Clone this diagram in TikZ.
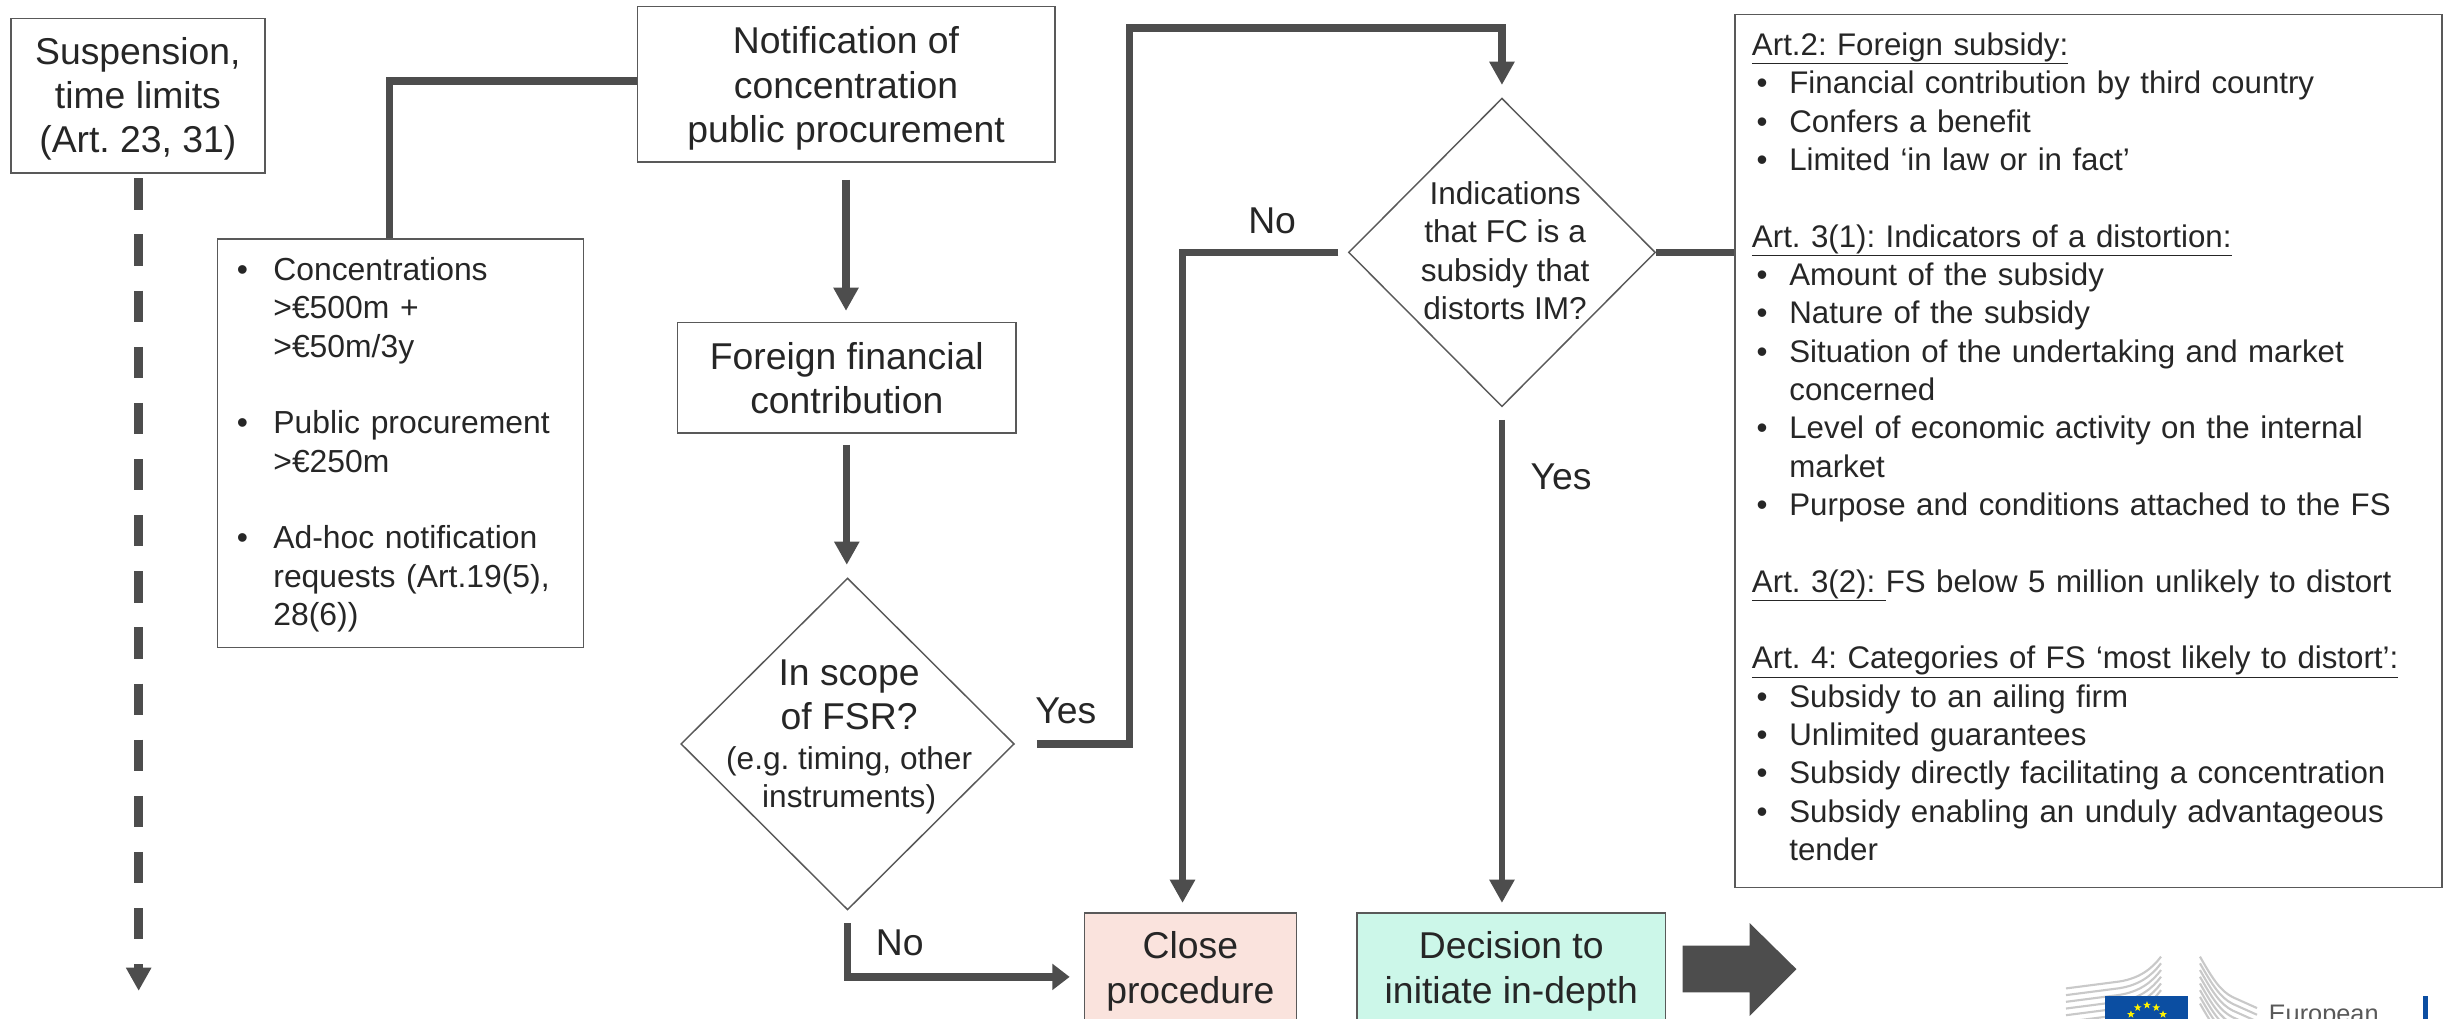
\documentclass[tikz,border=0pt]{standalone}
\usepackage{fontspec}
\setmainfont{Liberation Sans}
\usetikzlibrary{arrows.meta,shapes.geometric}
\AtBeginDocument{\frenchspacing}
\def\ua{1.1685pt}
\definecolor{conn}{HTML}{4D4D4D}
\definecolor{edge}{HTML}{595959}
\definecolor{ink}{HTML}{262626}
\definecolor{closefill}{HTML}{FAE3DD}
\definecolor{decfill}{HTML}{CCF7E9}
\definecolor{eublue}{HTML}{0B4EA2}
\definecolor{stripe}{HTML}{C9C9C9}
\newcommand{\bigf}{\fontsize{28}{33.3}\selectfont}
\newcommand{\smallf}{\fontsize{23.7}{28.75}\selectfont}
\newcommand{\lawf}{\fontsize{23.45}{28.75}\selectfont}
\newcommand{\listf}{\fontsize{23.9}{28.75}\selectfont}
\newcommand{\bul}[1]{\makebox[24\dimexpr\ua\relax][l]{\hspace*{3\dimexpr\ua\relax}•}#1}
\newcommand{\cont}[1]{\hspace*{24\dimexpr\ua\relax}#1}
\newcommand{\ldn}[1]{\rule{0pt}{#1pt}}
\tikzset{
  x=\ua,y=-\ua,
  bigbox/.style={draw=edge,line width=1.1pt,text=ink,font=\bigf,align=center,inner sep=0pt},
  decide/.style={diamond,draw=edge,line width=1.1pt,inner sep=0pt,aspect=1},
  dtext/.style={text=ink,align=center,inner sep=0pt},
  panel/.style={draw=edge,line width=1.1pt,text=ink,anchor=north west,align=left,inner ysep=0pt,inner xsep=11*\ua},
  tag/.style={text=ink,font=\fontsize{28}{33}\selectfont,inner sep=0pt},
  link/.style={draw=conn,line width=5.4pt},
  linkthin/.style={draw=conn,line width=5pt},
  arr/.style={-{Triangle[length=17.5pt,width=18pt]}},
  arrside/.style={-{Triangle[length=13pt,width=19pt]}},
  estar/.style={star,star points=5,star point ratio=2.4,fill=yellow,inner sep=0pt,minimum size=6pt},
}
\begin{document}
\begin{tikzpicture}
\useasboundingbox (0,0) rectangle (1568,654);
\clip (0,0) rectangle (1568,654);

% logo
\foreach \i in {0,...,5}
  \draw[stripe,line width=1.6pt] (1326,634.4+4.3*\i) -- (1360,630+4.3*\i) .. controls (1373,628+4.3*\i) and (1381,622+4.3*\i) .. (1387,614+4.3*\i);
\foreach \i in {0,...,7}
  \draw[stripe,line width=1.6pt] (1412,614+4.3*\i) .. controls (1420,628+4.3*\i) and (1425,636+4.3*\i) .. (1433,640+4.3*\i) -- (1448.6,647+4.3*\i);
\fill[eublue] (1351,639.3) rectangle (1404.5,660);
\foreach \i in {0,...,11}
  \node[estar] (star\i) at ({1378+11.9*cos(30*\i)},{657+11.9*sin(30*\i)}) {};
\fill[eublue] (1555,639.3) rectangle (1558.5,660);
\node[anchor=base west,inner sep=0pt,text=edge,font=\fontsize{19}{22}\selectfont] (ectext) at (1456,656) {European};

% boxes
\node[bigbox,minimum width=163*\ua,minimum height=99*\ua] (susp) at (88.5,61.5) {\ldn{24.7}Suspension,\\time limits\\(Art. 23, 31)};
\node[bigbox,minimum width=268*\ua,minimum height=100*\ua] (notif) at (543,54) {\ldn{27}Notification of\\concentration\\public procurement};
\node[bigbox,minimum width=217*\ua,minimum height=71*\ua] (foreign) at (543.5,242.5) {\ldn{21}Foreign financial\\contribution};
\node[bigbox,fill=closefill,minimum width=136*\ua,minimum height=70*\ua] (close) at (764,621) {\ldn{26}Close\\procedure};
\node[bigbox,fill=decfill,minimum width=198*\ua,minimum height=70*\ua] (dec) at (970,621) {\ldn{26}Decision to\\initiate in-depth};

% list box
\node[panel,font=\listf,text width=213*\ua,minimum height=262*\ua] (list) at (139,153) {%
\makebox[25\dimexpr\ua\relax][l]{\hspace*{1.5\dimexpr\ua\relax}•}Concentrations\\
\hspace*{25\dimexpr\ua\relax}>€500m +\\
\hspace*{25\dimexpr\ua\relax}>€50m/3y\\
\mbox{}\\
\makebox[25\dimexpr\ua\relax][l]{\hspace*{1.5\dimexpr\ua\relax}•}Public procurement\\
\hspace*{25\dimexpr\ua\relax}>€250m\\
\mbox{}\\
\makebox[25\dimexpr\ua\relax][l]{\hspace*{1.5\dimexpr\ua\relax}•}Ad-hoc notification\\
\hspace*{25\dimexpr\ua\relax}requests (Art.19(5),\\
\hspace*{25\dimexpr\ua\relax}28(6))\par\vspace*{-2\dimexpr\ua\relax}};

% right panel
\node[panel,font=\lawf,text width=432*\ua,minimum height=560*\ua] (law) at (1113,9) {%
\underline{Art.2: Foreign subsidy:}\\
\bul{Financial contribution by third country}\\
\bul{Confers a benefit}\\
\bul{Limited ‘in law or in fact’}\\
\mbox{}\\
\underline{Art. 3(1): Indicators of a distortion:}\\
\bul{Amount of the subsidy}\\
\bul{Nature of the subsidy}\\
\bul{Situation of the undertaking and market}\\
\cont{concerned}\\
\bul{Level of economic activity on the internal}\\
\cont{market}\\
\bul{Purpose and conditions attached to the FS}\\
\mbox{}\\
\underline{Art. 3(2): }FS below 5 million unlikely to distort\\
\mbox{}\\
\underline{Art. 4: Categories of FS ‘most likely to distort’:}\\
\bul{Subsidy to an ailing firm}\\
\bul{Unlimited guarantees}\\
\bul{Subsidy directly facilitating a concentration}\\
\bul{Subsidy enabling an unduly advantageous}\\
\cont{tender}\par\vspace*{5.5\dimexpr\ua\relax}};

% diamonds
\node[decide,minimum width=214*\ua,minimum height=213*\ua] (d1) at (544,477.5) {};
\node[decide,minimum width=197*\ua,minimum height=198*\ua] (d2) at (964,162) {};
\node[dtext,font=\bigf] (d1a) at (545,446) {In scope\\of FSR?};
\node[dtext,font=\smallf] (d1b) at (545,501) {(e.g. timing, other\\instruments)};
\node[dtext,font=\smallf] (d2t) at (966,161) {Indications\\that FC is a\\subsidy that\\distorts IM?};

% labels
\node[tag] (yes1) at (684,456) {Yes};
\node[tag] (no1) at (577.5,605) {No};
\node[tag] (no2) at (816.5,142) {No};
\node[tag] (yes2) at (1002,306) {Yes};

% connectors
\coordinate (e1) at (250,52);
\coordinate (dend) at (89,636);
\coordinate (y1) at (725,477.5);
\coordinate (y2) at (725,18);
\coordinate (n1) at (759,162);
\coordinate (n2) at (544,627);
\draw[conn,line width=6.4pt,arr,dash pattern=on 23.4pt off 18.7pt,shorten <=3*\ua] (susp.south -| dend) -- (dend);
\draw[link] (list.north -| e1) -- (e1) -- (e1 -| notif.west);
\draw[link,arr,shorten <=11*\ua,shorten >=7*\ua] (notif.south) -- (notif.south |- foreign.north);
\draw[link,arr,shorten <=7*\ua,shorten >=8*\ua] (foreign.south) -- (foreign.south |- d1.north);
\draw[link,arr,shorten <=14*\ua,shorten >=8*\ua] (d1.east) -- (y1) -- (y2) -- (y2 -| d2.north) -- (d2.north);
\draw[linkthin,arr,shorten <=6*\ua,shorten >=6*\ua] (d2.west) -- (n1) -- (n1 |- close.north);
\draw[linkthin,arr,shorten <=8*\ua,shorten >=6*\ua] (d2.south) -- (d2.south |- dec.north);
\draw[link] (d2.east) -- (d2.east -| law.west);
\draw[link,arrside,shorten <=8*\ua,shorten >=9*\ua] (d1.south) -- (n2) -- (n2 -| close.west);
\fill[conn] (1080,607) -- (1123,607) -- (1123,592.5) -- (1153,622) -- (1123,652) -- (1123,637) -- (1080,637) -- cycle;
\end{tikzpicture}
\end{document}
